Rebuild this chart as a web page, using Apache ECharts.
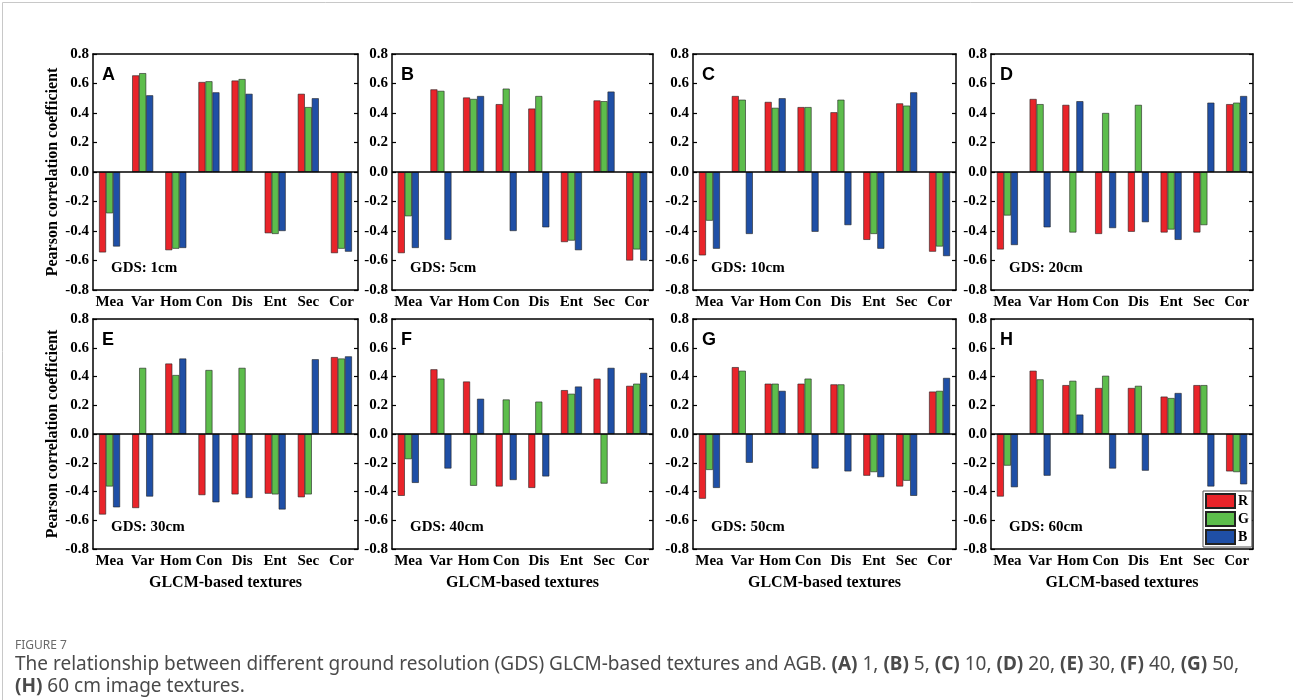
<!DOCTYPE html>
<html>
<head>
<meta charset="utf-8">
<script src="https://cdn.jsdelivr.net/npm/echarts@6/dist/echarts.min.js"></script>
<style>
html,body{margin:0;padding:0;background:#fff;}
#chart{width:1293px;height:700px;}
</style>
</head>
<body>
<div id="chart"></div>
<script>
// ---------- DATA ----------
const categories = ['Mea', 'Var', 'Hom', 'Con', 'Dis', 'Ent', 'Sec', 'Cor'];
const seriesNames = ['R', 'G', 'B'];
const panelLetters = ['A', 'B', 'C', 'D', 'E', 'F', 'G', 'H'];
const gdsLabels = ['GDS: 1cm', 'GDS: 5cm', 'GDS: 10cm', 'GDS: 20cm', 'GDS: 30cm', 'GDS: 40cm', 'GDS: 50cm', 'GDS: 60cm'];
const yTickMin = -0.8, yTickMax = 0.8, yTickStep = 0.2;

const R_A = [-0.545, 0.655, -0.53, 0.61, 0.62, -0.415, 0.53, -0.55];
const G_A = [-0.28, 0.67, -0.52, 0.615, 0.63, -0.42, 0.44, -0.52];
const B_A = [-0.505, 0.52, -0.515, 0.54, 0.53, -0.40, 0.50, -0.54];

const R_B = [-0.55, 0.56, 0.505, 0.46, 0.43, -0.475, 0.485, -0.60];
const G_B = [-0.30, 0.55, 0.495, 0.565, 0.515, -0.465, 0.48, -0.525];
const B_B = [-0.515, -0.46, 0.515, -0.40, -0.375, -0.53, 0.545, -0.60];

const R_C = [-0.565, 0.515, 0.475, 0.44, 0.405, -0.46, 0.465, -0.54];
const G_C = [-0.33, 0.49, 0.435, 0.44, 0.49, -0.42, 0.45, -0.505];
const B_C = [-0.52, -0.42, 0.50, -0.405, -0.36, -0.52, 0.54, -0.57];

const R_D = [-0.525, 0.495, 0.455, -0.42, -0.405, -0.41, -0.41, 0.46];
const G_D = [-0.295, 0.46, -0.41, 0.40, 0.455, -0.39, -0.36, 0.47];
const B_D = [-0.495, -0.375, 0.48, -0.38, -0.34, -0.46, 0.47, 0.515];

const R_E = [-0.56, -0.515, 0.49, -0.425, -0.42, -0.415, -0.44, 0.535];
const G_E = [-0.365, 0.46, 0.41, 0.445, 0.46, -0.42, -0.42, 0.525];
const B_E = [-0.51, -0.435, 0.525, -0.475, -0.445, -0.525, 0.52, 0.54];

const R_F = [-0.43, 0.45, 0.365, -0.365, -0.375, 0.305, 0.385, 0.335];
const G_F = [-0.175, 0.385, -0.36, 0.24, 0.225, 0.28, -0.345, 0.35];
const B_F = [-0.34, -0.24, 0.245, -0.32, -0.295, 0.33, 0.46, 0.425];

const R_G = [-0.45, 0.465, 0.35, 0.35, 0.345, -0.29, -0.365, 0.295];
const G_G = [-0.25, 0.44, 0.35, 0.385, 0.345, -0.265, -0.325, 0.30];
const B_G = [-0.375, -0.20, 0.30, -0.24, -0.26, -0.30, -0.43, 0.39];

const R_H = [-0.435, 0.44, 0.34, 0.32, 0.32, 0.26, 0.34, -0.26];
const G_H = [-0.22, 0.38, 0.37, 0.405, 0.335, 0.25, 0.34, -0.265];
const B_H = [-0.37, -0.29, 0.135, -0.24, -0.255, 0.285, -0.365, -0.35];

const panelData = [
  [R_A, G_A, B_A], [R_B, G_B, B_B], [R_C, G_C, B_C], [R_D, G_D, B_D],
  [R_E, G_E, B_E], [R_F, G_F, B_F], [R_G, G_G, B_G], [R_H, G_H, B_H]
];

// ---------- STYLE / LAYOUT ----------
const colors = ['#E9242A', '#5DBD4C', '#1F4FA6'];
const serif = '"Liberation Serif", "Times New Roman", serif';
const sans = '"Liberation Sans", Arial, sans-serif';
const capFont = '"Noto Sans", sans-serif';
const lefts = [93, 392, 693, 991];
const widths = [265, 261, 263, 262];
const tops = [54, 319];
const heights = [236, 230];

const grids = [], xAxes = [], yAxes = [], series = [], graphics = [];
const axisLineStyle = { color: '#000', width: 1.5 };

for (let p = 0; p < 8; p++) {
  const row = Math.floor(p / 4), col = p % 4;
  const gl = lefts[col], gt = tops[row], gw = widths[col], gh = heights[row];
  grids.push({ left: gl, top: gt, width: gw, height: gh, containLabel: false });

  xAxes.push({
    type: 'category', gridIndex: p, data: categories, position: 'bottom',
    boundaryGap: true,
    axisLine: { onZero: false, lineStyle: axisLineStyle },
    axisTick: { inside: true, alignWithLabel: true, length: 4, lineStyle: { color: '#000', width: 1.2 } },
    axisLabel: { color: '#000', fontFamily: serif, fontWeight: 'bold', fontSize: 15, margin: 5, interval: 0 },
    name: row === 1 ? 'GLCM-based textures' : '',
    nameLocation: 'middle', nameGap: 26,
    nameTextStyle: { color: '#000', fontFamily: serif, fontWeight: 'bold', fontSize: 16 }
  });
  xAxes.push({
    type: 'category', gridIndex: p, data: categories, position: 'top',
    boundaryGap: true,
    axisLine: { onZero: false, lineStyle: axisLineStyle },
    axisTick: { inside: true, alignWithLabel: true, length: 4, lineStyle: { color: '#000', width: 1.2 } },
    axisLabel: { show: false }
  });
  yAxes.push({
    type: 'value', gridIndex: p, position: 'left',
    min: yTickMin, max: yTickMax, interval: yTickStep,
    axisLine: { show: true, onZero: false, lineStyle: axisLineStyle },
    axisTick: { show: true, inside: true, length: 4, lineStyle: { color: '#000', width: 1.2 } },
    splitLine: { show: false },
    axisLabel: {
      color: '#000', fontFamily: serif, fontWeight: 'bold', fontSize: 15, margin: 4,
      formatter: v => (Math.abs(v) < 1e-9 ? '0.0' : v.toFixed(1))
    },
    name: col === 0 ? 'Pearson correlation coefficient' : '',
    nameLocation: 'middle', nameGap: 31, nameRotate: 90,
    nameTextStyle: { color: '#000', fontFamily: serif, fontWeight: 'bold', fontSize: 16 }
  });
  yAxes.push({
    type: 'value', gridIndex: p, position: 'right',
    min: yTickMin, max: yTickMax, interval: yTickStep,
    axisLine: { show: true, onZero: false, lineStyle: axisLineStyle },
    axisTick: { show: true, inside: true, length: 4, lineStyle: { color: '#000', width: 1.2 } },
    splitLine: { show: false },
    axisLabel: { show: false }
  });

  for (let s = 0; s < 3; s++) {
    const ser = {
      type: 'bar', name: seriesNames[s],
      xAxisIndex: p * 2, yAxisIndex: p * 2,
      data: panelData[p][s],
      barWidth: 7, barGap: '0%',
      itemStyle: { color: colors[s], borderColor: '#222', borderWidth: 0.6 },
      emphasis: { disabled: true },
      animation: false
    };
    if (s === 0) {
      ser.markLine = {
        silent: true, symbol: 'none', animation: false,
        label: { show: false },
        lineStyle: { color: '#000', width: 1.5, type: 'solid' },
        data: [{ yAxis: 0 }]
      };
    }
    series.push(ser);
  }

  graphics.push({
    type: 'text', left: gl + 9, top: gt + 12, z: 100,
    style: { text: panelLetters[p], font: 'bold 18px ' + sans, fill: '#000' }
  });
  graphics.push({
    type: 'text', left: gl + 18, top: gt + gh - 29, z: 100,
    style: { text: gdsLabels[p], font: 'bold 15px ' + serif, fill: '#000' }
  });
}

graphics.push({
  type: 'rect', left: 0, top: 0, z: 0,
  shape: { x: 0.5, y: 0.5, width: 1291, height: 698 },
  style: { fill: 'none', stroke: '#c8c8c8', lineWidth: 1 }
});
graphics.push({
  type: 'text', left: 15, top: 640, z: 100,
  style: { text: 'FIGURE 7', font: '12px ' + capFont, fill: '#6a6a6a' }
});
const richB = { b: { fontWeight: 'bold', fontSize: 19, fontFamily: capFont, fill: '#4a4a4a' } };
graphics.push({
  type: 'text', left: 15, top: 655, z: 100,
  style: {
    text: 'The relationship between different ground resolution (GDS) GLCM-based textures and AGB. {b|(A)} 1, {b|(B)} 5, {b|(C)} 10, {b|(D)} 20, {b|(E)} 30, {b|(F)} 40, {b|(G)} 50,',
    font: '19px ' + capFont, fill: '#4a4a4a', rich: richB
  }
});
graphics.push({
  type: 'text', left: 15, top: 677, z: 100,
  style: {
    text: '{b|(H)} 60 cm image textures.',
    font: '19px ' + capFont, fill: '#4a4a4a', rich: richB
  }
});

const option = {
  backgroundColor: '#fff',
  animation: false,
  grid: grids,
  xAxis: xAxes,
  yAxis: yAxes,
  series: series,
  legend: {
    data: seriesNames,
    orient: 'vertical',
    left: 1203, top: 491,
    itemWidth: 29, itemHeight: 14, itemGap: 2,
    padding: [2, 3, 2, 2],
    borderColor: '#555', borderWidth: 1,
    backgroundColor: '#fff',
    icon: 'rect',
    selectedMode: false,
    textStyle: { color: '#000', fontFamily: serif, fontWeight: 'bold', fontSize: 14, padding: [0, 0, 0, -2] }
  },
  graphic: graphics
};

const chart = echarts.init(document.getElementById('chart'), null, { renderer: 'canvas' });
chart.setOption(option);
</script>
</body>
</html>
